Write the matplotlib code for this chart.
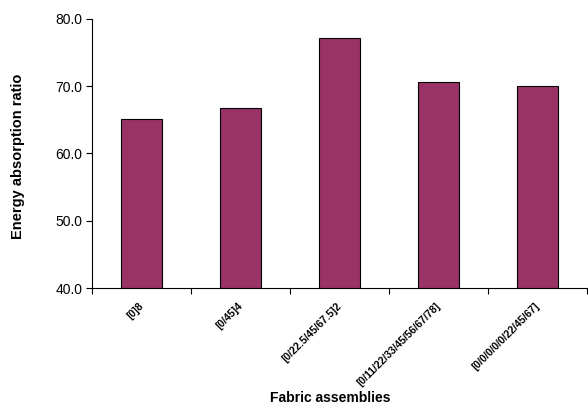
import numpy as np
import matplotlib
matplotlib.use('Agg')
import matplotlib.pyplot as plt
from matplotlib.transforms import ScaledTranslation

plt.rcParams['font.family'] = ['Liberation Sans', 'DejaVu Sans']

categories = ['[0]8', '[0/45]4', '[0/22.5/45/67.5]2',
              '[0/11/22/33/45/56/67/78]', '[0/0/0/0/0/22/45/67]']
energy_ratio = [65.1, 66.8, 77.2, 70.6, 70.0]

fig = plt.figure(figsize=(5.88, 4.09), dpi=100)
ax = fig.add_axes([92 / 588, 1 - 288 / 409, 495 / 588, 269 / 409])

x = np.arange(len(categories))
ax.bar(x, energy_ratio, width=0.41, color='#993366', edgecolor='black', linewidth=0.8)

ax.set_xlim(-0.5, len(categories) - 0.5)
ax.set_ylim(40, 80)
ax.set_yticks([40, 50, 60, 70, 80])
ax.set_yticklabels([f'{v:.1f}' for v in [40, 50, 60, 70, 80]], fontsize=10)
ax.tick_params(axis='y', direction='out', length=4, width=0.8, pad=3)

# category labels at the centres, tick marks at the boundaries
ax.set_xticks(x)
ax.set_xticklabels(categories, rotation=45, ha='right', va='top',
                   rotation_mode='anchor', fontsize=7.5, fontweight='bold')
ax.tick_params(axis='x', which='major', length=0, pad=9)
shift = ScaledTranslation(-3 / 100, 0, fig.dpi_scale_trans)
for lbl in ax.get_xticklabels():
    lbl.set_transform(lbl.get_transform() + shift)
ax.set_xticks(np.arange(-0.5, len(categories)), minor=True)
ax.tick_params(axis='x', which='minor', direction='out', length=4, width=0.8)

for side in ['top', 'right']:
    ax.spines[side].set_visible(False)
for side in ['left', 'bottom']:
    ax.spines[side].set_linewidth(0.8)

ax.set_ylabel('Energy absorption ratio', fontsize=10.5, fontweight='bold')
ax.yaxis.set_label_coords((25 - 92) / 495, 0.49)
fig.text(330 / 588, 1 - 398 / 409, 'Fabric assemblies', fontsize=10,
         fontweight='bold', ha='center', va='center')

fig.savefig('out.png', dpi=100)
